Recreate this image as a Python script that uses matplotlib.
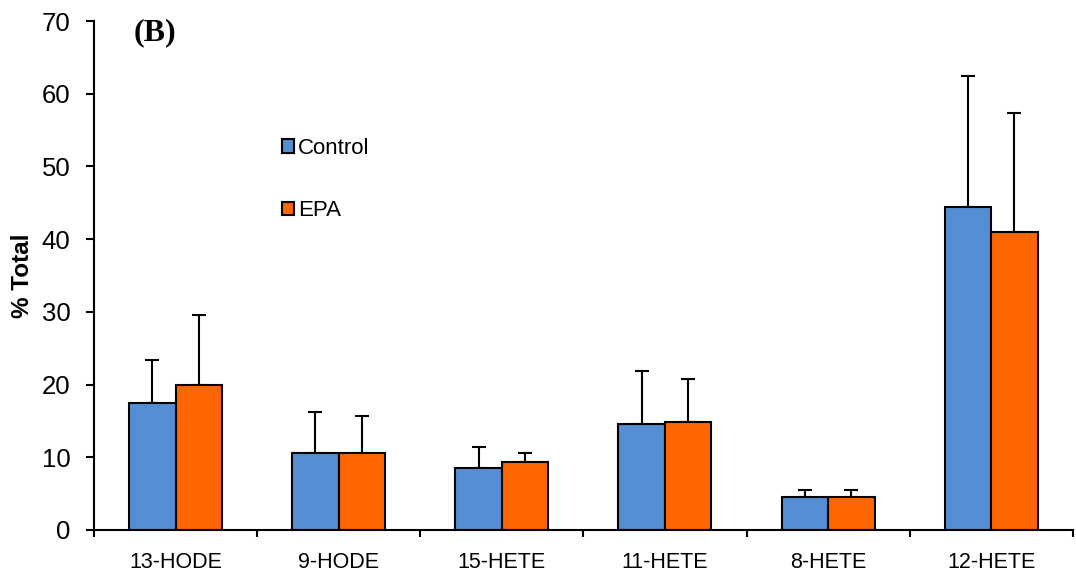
import matplotlib
matplotlib.use("Agg")
import matplotlib.pyplot as plt
import numpy as np

categories = ["13-HODE", "9-HODE", "15-HETE", "11-HETE", "8-HETE", "12-HETE"]
control = [17.5, 10.6, 8.5, 14.6, 4.5, 44.4]
control_err = [5.9, 5.6, 2.9, 7.2, 1.0, 18.1]
epa = [20.0, 10.6, 9.3, 14.9, 4.5, 41.0]
epa_err = [9.5, 5.1, 1.3, 5.8, 1.0, 16.4]
yticks = [0, 10, 20, 30, 40, 50, 60, 70]

plt.rcParams['font.family'] = ['Liberation Sans', 'DejaVu Sans']

fig = plt.figure(figsize=(10.76, 5.77), dpi=100)
ax = fig.add_axes([0.0874, 0.0815, 0.9096, 0.8821])

x = np.arange(len(categories))
w = 0.285
ax.bar(x - w / 2, control, w, color="#558ED5", edgecolor="black", linewidth=1.5,
       label="Control", zorder=2)
ax.bar(x + w / 2, epa, w, color="#FF6600", edgecolor="black", linewidth=1.5,
       label="EPA", zorder=2)
ax.errorbar(x - w / 2, control, yerr=[np.zeros(len(control)), control_err], fmt="none",
            ecolor="black", elinewidth=1.5, capsize=5, capthick=1.5, zorder=1)
ax.errorbar(x + w / 2, epa, yerr=[np.zeros(len(epa)), epa_err], fmt="none",
            ecolor="black", elinewidth=1.5, capsize=5, capthick=1.5, zorder=1)

ax.set_xlim(-0.5, len(categories) - 0.5)
ax.set_ylim(0, 70)
ax.set_yticks(yticks)
ax.tick_params(axis="y", labelsize=18.5, direction="out", length=6, width=1.5, pad=11)
ax.set_xticks(np.arange(len(categories) + 1) - 0.5)
ax.set_xticklabels([])
ax.set_xticks(x, minor=True)
ax.set_xticklabels(categories, minor=True)
ax.tick_params(axis="x", which="major", direction="out", length=5, width=1.5)
ax.tick_params(axis="x", which="minor", length=0, labelsize=15.5, pad=16)

for s in ["top", "right"]:
    ax.spines[s].set_visible(False)
for s in ["left", "bottom"]:
    ax.spines[s].set_linewidth(1.5)

ax.set_ylabel("% Total", fontsize=17.5, fontweight="bold", labelpad=5.5)

ax.text(0.04, 1.006, "(B)", transform=ax.transAxes, fontsize=23, fontweight="bold",
        family="Liberation Serif", va="top", ha="left")

leg = ax.legend(loc="upper left", bbox_to_anchor=(0.1831, 0.788), frameon=False,
                fontsize=16, handlelength=0.55, handleheight=0.55, handletextpad=0.15,
                labelspacing=1.86, borderaxespad=0)

fig.savefig("out.png", dpi=100)
